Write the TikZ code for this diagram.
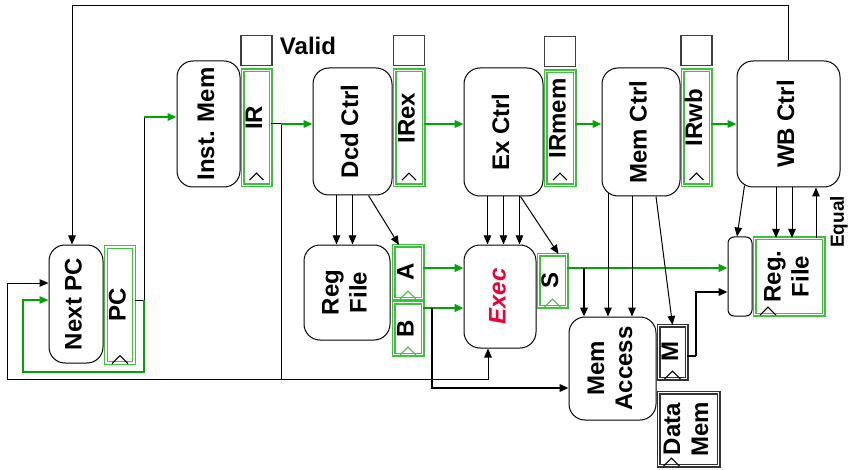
\documentclass[tikz,border=0pt]{standalone}
\usepackage{fontspec}
\setmainfont{Liberation Sans}
\usepackage{graphicx}
\usetikzlibrary{positioning,calc,arrows.meta}
\definecolor{reggreen}{RGB}{60,195,60}
\definecolor{arrgreen}{RGB}{0,165,0}
\definecolor{execred}{RGB}{235,0,55}

\newcommand\vtxt[1]{\rotatebox{90}{\begin{tabular}{@{}c@{}}#1\end{tabular}}}
\newcommand\irtxt[1]{\vtxt{\hspace*{20pt}#1}}
\newcommand\clkin[1]{\draw[line width=1pt] ($(#1.south)+(-7,-6)$) -- ++(7,-7) -- ++(7,7);}
\newcommand\clkedge[3]{\draw[#2, line width=1pt] ($(#1.south)+(#3-8,0)$) -- ++(8,-8) -- ++(8,8);}

\tikzset{
  base/.style={font=\fontsize{24}{28}\selectfont\bfseries, inner sep=0pt, align=center},
  sz/.style 2 args={minimum width=#1pt, minimum height=#2pt},
  ctrl/.style={base, draw, line width=1pt, rounded corners=16pt, fill=white},
  reg/.style={base, draw=reggreen, line width=1.2pt, double=white, double distance=1.6pt},
  mreg/.style={reg, draw=black!80},
  valid/.style={draw=black!75, line width=1.2pt, minimum width=31pt, minimum height=30pt},
  wire/.style={draw=black, line width=1pt},
  bwire/.style={draw=black, line width=2pt},
  gwire/.style={draw=arrgreen, line width=1.3pt},
  garrow/.style={->, draw=arrgreen, line width=2pt}
}

\begin{document}
\begin{tikzpicture}[x=1pt, y=-1pt, >={Triangle[length=9pt,width=7.5pt]}]
  \useasboundingbox (0,0) rectangle (853,470);

  % Fetch
  \node[ctrl, sz={54}{118}] (nextpc) at (76,304) {\vtxt{Next PC}};
  \node[reg, sz={28}{116}] (pc) at (120,305) {\vtxt{PC}};
  \node[ctrl, sz={63}{126}] (imem) at (208.5,124) {\vtxt{Inst. Mem}};
  \node[reg, sz={28}{115}] (ir) at (256.5,128) {\irtxt{IR}};

  % Decode
  \node[ctrl, sz={79}{127}] (dcd) at (352.5,131.5) {\vtxt{Dcd Ctrl}};
  \node[reg, sz={29}{115}] (irex) at (409,128) {\irtxt{IRex}};
  \node[ctrl, sz={86}{95}] (regfile) at (347,292.5) {\vtxt{Reg\\File}};
  \node[reg, sz={29}{53}] (rega) at (408,272) {\vtxt{A}};
  \node[reg, sz={29}{52}] (regb) at (408,328.5) {\vtxt{B}};

  % Execute
  \node[ctrl, sz={79}{128}] (exctrl) at (503.5,132) {\vtxt{Ex Ctrl}};
  \node[reg, sz={29}{114}] (irmem) at (560,128.5) {\irtxt{IRmem}};
  \node[ctrl, sz={72}{103}, text=execred] (exec) at (500,296.5) {\vtxt{\itshape Exec}};
  \node[reg, sz={28}{52}] (regs) at (552.5,280.5) {\vtxt{S}};

  % Memory
  \node[ctrl, sz={78}{128}] (memctrl) at (641,132) {\vtxt{Mem Ctrl}};
  \node[reg, sz={28}{115}] (irwb) at (696.5,128) {\irtxt{IRwb}};
  \node[ctrl, sz={87}{103}] (memacc) at (612.5,368.5) {\vtxt{Mem\\Access}};
  \node[mreg, sz={28}{53}] (regm) at (672.5,352) {\vtxt{M}};
  \node[mreg, sz={60}{73}] (dmem) at (688.5,429) {\vtxt{Data\\Mem}};

  % Write back
  \node[ctrl, sz={103}{126}] (wbctrl) at (788.5,124) {\vtxt{WB Ctrl}};
  \node[ctrl, rounded corners=6pt, sz={24}{79}] (wbmux) at (740,276.5) {};
  \node[reg, sz={69}{76}] (wbrf) at (789,276.5) {\vtxt{Reg.\\File}};

  % Valid bits
  \node[valid, above=3.5pt of ir] (vir) {};
  \foreach \r in {irex,irmem,irwb} {\node[valid, above=3.5pt of \r] (v\r) {};}
  \node[base] (validlbl) at (308,46) {Valid};

  % Clocks
  \foreach \r in {ir,irex,irmem,irwb} {\clkin{\r}}
  \clkedge{pc}{black}{0}
  \foreach \r in {rega,regb,regs} {\clkedge{\r}{reggreen}{0}}
  \clkedge{regm}{black}{0}
  \clkedge{dmem}{black}{-17}
  \clkedge{wbrf}{black}{-21}

  % Fetch loop
  \coordinate (fb) at (72,6);
  \draw[wire, ->] (wbctrl.north) |- (fb) -- (fb |- nextpc.north);
  \coordinate (pcout) at (144,300);
  \coordinate (imin) at (144,117);
  \coordinate (lpg) at (23,372);
  \draw[wire] (pc.east |- pcout) -- (pcout) -- (imin);
  \draw[garrow] (imin) -- (imin -| imem.west);
  \draw[gwire, ->] (pcout) |- (lpg) |- ([yshift=4pt]nextpc.west);

  % IR output and branch target
  \coordinate (irout) at (281,124);
  \coordinate (bot) at (281,379);
  \coordinate (lpb) at (7,379);
  \draw[wire] (ir.east |- irout) -- (irout) -- (bot);
  \draw[garrow] (irout) -- (dcd.west |- irout);
  \draw[wire, ->] (bot) -- (lpb) |- ([yshift=21pt]nextpc.west);
  \draw[wire, ->] (bot) -| ([xshift=-12pt]exec.south);

  % Pipeline stages
  \draw[garrow] (irex.east |- irout) -- (exctrl.west |- irout);
  \draw[garrow] (irmem.east |- irout) -- (memctrl.west |- irout);
  \draw[garrow] (irwb.east |- irout) -- (wbctrl.west |- irout);

  % Decode
  \foreach \dx in {-16,0} {
    \coordinate (d) at ([xshift=\dx pt]dcd.south);
    \draw[wire, ->] (d) -- (d |- regfile.north);
  }
  \draw[wire, ->] ([xshift=16pt]dcd.south) -- ([xshift=-9pt]rega.north);
  \coordinate (aout) at ([yshift=4pt]rega.east);
  \draw[garrow, line width=2.5pt] (aout) -- (aout -| exec.west);
  \coordinate (bout) at (432,308);
  \draw[garrow, line width=2.5pt] (regb.east |- bout) -- (exec.west |- bout);
  \draw[bwire, ->] (bout) |- ([yshift=-19.5pt]memacc.west);

  % Execute
  \foreach \dx in {-16,0,16} {
    \coordinate (e) at ([xshift=\dx pt]exctrl.south);
    \draw[wire, ->] (e) -- (e |- exec.north);
  }
  \draw[wire, ->] ([xshift=17pt]exctrl.south) -- ([xshift=6pt]regs.north);
  \coordinate (sout) at (584,268);
  \draw[garrow, line width=2.5pt] (regs.east |- sout) -- (wbmux.west |- sout);
  \draw[bwire, ->] (sout) -- (sout |- memacc.north);

  % Memory
  \coordinate (m1) at ([xshift=-33pt, yshift=3.5pt]memctrl.south);
  \coordinate (m2) at ([xshift=-9pt]memctrl.south);
  \draw[wire, ->] (m1) -- (m1 |- memacc.north);
  \draw[wire, ->] (m2) -- (m2 |- memacc.north);
  \draw[wire, ->] ([xshift=15pt]memctrl.south) -- (regm.north);
  \coordinate (mout) at (696,356);
  \draw[bwire] ([yshift=-4pt]regm.east) -- (mout);
  \draw[bwire, ->] (mout) |- ([yshift=-15.5pt]wbmux.west);

  % Write back
  \draw[wire, ->] ([xshift=-44pt, yshift=2pt]wbctrl.south) -- ([xshift=-3pt]wbmux.north);
  \foreach \dx in {-12.5,3.5} {
    \coordinate (w) at ([xshift=\dx pt]wbctrl.south);
    \draw[wire, ->] (w) -- (w |- wbrf.north);
  }
  \coordinate (eq) at ([xshift=27pt]wbrf.north);
  \draw[wire, ->] (eq) -- (eq |- wbctrl.south);
  \node[base, font=\fontsize{19}{22}\selectfont\bfseries, rotate=90] (equal) at (839,222) {Equal};
\end{tikzpicture}
\end{document}
